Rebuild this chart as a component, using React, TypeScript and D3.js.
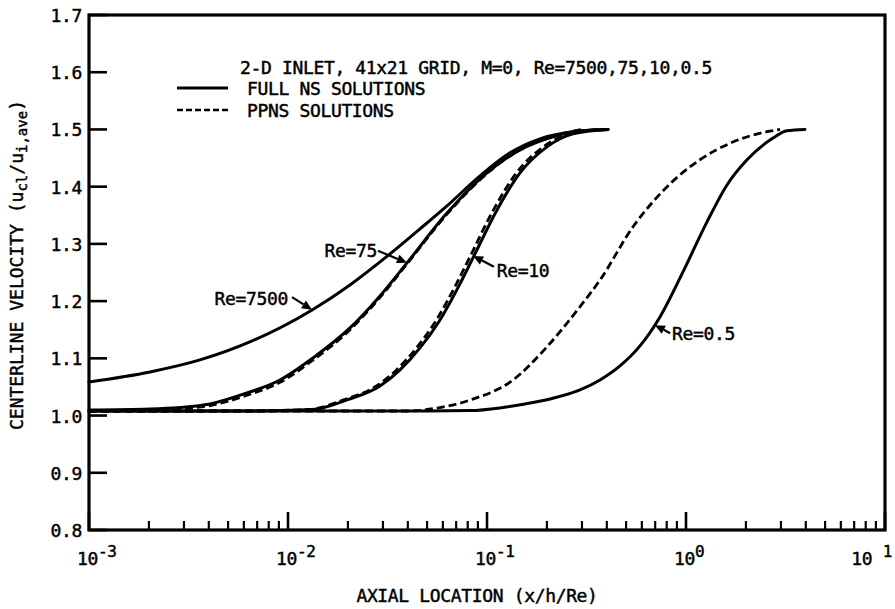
import React from "react";
import * as d3 from "d3";

// ---------- data ----------
const re7500X = [1e-3, 2.027e-3, 3.61e-3, 6.43e-3, 1.322e-2, 2.049e-2, 3.256e-2, 4.605e-2, 6.295e-2, 9.22e-2, 0.1305, 0.1846, 0.2705, 0.4055];
const re7500Y = [1.0587, 1.0762, 1.0972, 1.1287, 1.1846, 1.2283, 1.2825, 1.3262, 1.3664, 1.4189, 1.4591, 1.4836, 1.4958, 1.5];

const re75X = [1e-3, 2.027e-3, 2.866e-3, 4.055e-3, 6.22e-3, 9.12e-3, 1.335e-2, 2.049e-2, 2.9e-2, 3.963e-2, 6.295e-2, 0.1, 0.1465, 0.2146, 0.2933, 0.4055];
const re75Y = [1.0098, 1.0115, 1.0142, 1.0203, 1.0395, 1.0622, 1.1007, 1.1531, 1.2091, 1.2668, 1.3538, 1.4241, 1.4643, 1.4871, 1.4976, 1.5];
const re75PpnsX = [1e-3, 2.027e-3, 2.866e-3, 4.055e-3, 6.22e-3, 9.12e-3, 1.335e-2, 2.049e-2, 2.9e-2, 3.963e-2, 6.295e-2, 0.1, 0.1465, 0.2146, 0.3];
const re75PpnsY = [1.008, 1.0095, 1.012, 1.0175, 1.0355, 1.058, 1.097, 1.15, 1.2065, 1.265, 1.352, 1.423, 1.4643, 1.488, 1.5];

const re10X = [1e-3, 6.44e-3, 1.335e-2, 1.979e-2, 2.9e-2, 3.654e-2, 4.605e-2, 5.805e-2, 7.313e-2, 8.5e-2, 0.1123, 0.1465, 0.2002, 0.2705, 0.4055];
const re10Y = [1.008, 1.008, 1.0107, 1.0273, 1.0517, 1.0797, 1.1182, 1.1671, 1.2301, 1.2755, 1.3594, 1.4241, 1.4696, 1.4923, 1.5];
const re10PpnsX = [1e-3, 6.2e-3, 1.28e-2, 1.9e-2, 2.78e-2, 3.51e-2, 4.42e-2, 5.57e-2, 7.02e-2, 8.16e-2, 0.1078, 0.1406, 0.192, 0.26, 0.37];
const re10PpnsY = [1.008, 1.008, 1.0107, 1.0273, 1.0517, 1.0797, 1.1182, 1.1671, 1.2301, 1.2755, 1.3594, 1.4241, 1.4696, 1.4923, 1.5];

const re05X = [1e-3, 0.05, 0.0821, 0.1162, 0.1552, 0.2073, 0.2933, 0.3697, 0.4658, 0.5872, 0.74, 0.9658, 1.275, 1.607, 2.026, 2.736, 3.218, 3.963];
const re05Y = [1.008, 1.008, 1.0087, 1.0133, 1.0203, 1.029, 1.0448, 1.0622, 1.0867, 1.1217, 1.1724, 1.251, 1.3385, 1.403, 1.447, 1.485, 1.4976, 1.5];
const re05PpnsX = [1e-3, 0.04, 0.058, 0.082, 0.135, 0.2, 0.293, 0.37, 0.542, 0.804, 1.175, 1.72, 2.55, 2.97];
const re05PpnsY = [1.008, 1.008, 1.014, 1.027, 1.062, 1.12, 1.19, 1.237, 1.33, 1.4, 1.447, 1.478, 1.496, 1.5];

const yTickValues = [0.8, 0.9, 1.0, 1.1, 1.2, 1.3, 1.4, 1.5, 1.6, 1.7];
const yTickLabels = ["0.8", "0.9", "1.0", "1.1", "1.2", "1.3", "1.4", "1.5", "1.6", "1.7"];
const xMajorValues = [1e-3, 1e-2, 1e-1, 1, 10];
const xMajorExponents = ["-3", "-2", "-1", "0", "1"];
const minorMultipliers = [2, 3, 4, 5, 6, 7, 8, 9];

const titleText = "2-D INLET, 41x21 GRID, M=0, Re=7500,75,10,0.5";
const legendLabels = ["FULL NS SOLUTIONS", "PPNS SOLUTIONS"];
const xAxisTitle = "AXIAL LOCATION (x/h/Re)";

// annotations: label, arrow head (data), arrow tail (data), label anchor (data), text-anchor
const annoLabels = ["Re=7500", "Re=75", "Re=10", "Re=0.5"];
const annoHeads: [number, number][] = [[1.32e-2, 1.185], [3.96e-2, 1.267], [8.51e-2, 1.279], [0.698, 1.158]];
const annoTails: [number, number][] = [[1.047e-2, 1.207], [2.83e-2, 1.288], [0.1084, 1.26], [0.832, 1.144]];
const annoTextPos: [number, number][] = [[1.0e-2, 1.193], [2.8e-2, 1.277], [0.112, 1.242], [0.851, 1.132]];
const annoAnchors = ["end", "end", "start", "start"];

// ---------- layout ----------
const W = 895;
const H = 609;
const FONT = "DejaVu Sans Mono";

const x = d3.scaleLog().domain([1e-3, 10]).range([89, 885]);
const y = d3.scaleLinear().domain([0.8, 1.7]).range([530, 15]);

const zip = (xs: number[], ys: number[]) => xs.map((v, i) => [v, ys[i]] as [number, number]);
const line = d3
  .line<[number, number]>()
  .x((d) => x(d[0]))
  .y((d) => y(d[1]))
  .curve(d3.curveMonotoneX);

const solidSeries = [zip(re7500X, re7500Y), zip(re75X, re75Y), zip(re10X, re10Y), zip(re05X, re05Y)];
const dashedSeries = [zip(re75PpnsX, re75PpnsY), zip(re10PpnsX, re10PpnsY), zip(re05PpnsX, re05PpnsY)];

function Arrow({ head, tail }: { head: [number, number]; tail: [number, number] }) {
  const hx = x(head[0]);
  const hy = y(head[1]);
  const tx = x(tail[0]);
  const ty = y(tail[1]);
  const ang = Math.atan2(hy - ty, hx - tx);
  const L = 10;
  const Wd = 4.5;
  const bx = hx - L * Math.cos(ang);
  const by = hy - L * Math.sin(ang);
  const px = -Math.sin(ang) * Wd;
  const py = Math.cos(ang) * Wd;
  return (
    <g>
      <line x1={tx} y1={ty} x2={bx} y2={by} stroke="#000" strokeWidth={2.2} />
      <polygon points={`${hx},${hy} ${bx + px},${by + py} ${bx - px},${by - py}`} fill="#000" />
    </g>
  );
}

export default function App() {
  const minorTicks: number[] = [];
  for (let e = -3; e < 1; e++) {
    for (const m of minorMultipliers) minorTicks.push(m * Math.pow(10, e));
  }
  const textStyle = {
    fontFamily: FONT,
    fontSize: 18,
    letterSpacing: -0.35,
    stroke: "#000",
    strokeWidth: 0.45,
  } as React.CSSProperties;

  return (
    <svg
      width={W}
      height={H}
      viewBox={`0 0 ${W} ${H}`}
      style={{ position: "absolute", left: 0, top: 0, background: "#fff" }}
    >
      <rect x={0} y={0} width={W} height={H} fill="#fff" />

      {/* curves */}
      <g fill="none" stroke="#000">
        {solidSeries.map((s, i) => (
          <path key={"s" + i} d={line(s) || ""} strokeWidth={3} strokeLinecap="round" />
        ))}
        {dashedSeries.map((s, i) => (
          <path key={"d" + i} d={line(s) || ""} strokeWidth={2.8} strokeDasharray="8 4" />
        ))}
      </g>

      {/* frame */}
      <rect
        x={x(1e-3)}
        y={y(1.7)}
        width={x(10) - x(1e-3)}
        height={y(0.8) - y(1.7)}
        fill="none"
        stroke="#000"
        strokeWidth={3.2}
      />

      {/* y ticks */}
      {yTickValues.map((v, i) => (
        <g key={"yt" + i}>
          <line x1={x(1e-3)} x2={x(1e-3) + 18} y1={y(v)} y2={y(v)} stroke="#000" strokeWidth={2.6} />
          <text x={82} y={y(v) + 7} textAnchor="end" style={textStyle}>
            {yTickLabels[i]}
          </text>
        </g>
      ))}

      {/* x ticks */}
      {minorTicks.map((v, i) => (
        <line key={"xm" + i} x1={x(v)} x2={x(v)} y1={y(0.8)} y2={y(0.8) - 9} stroke="#000" strokeWidth={2.2} />
      ))}
      {xMajorValues.map((v, i) => {
        const last = i === xMajorValues.length - 1;
        return (
          <g key={"xt" + i}>
            <line x1={x(v)} x2={x(v)} y1={y(0.8)} y2={y(0.8) - 18} stroke="#000" strokeWidth={2.6} />
            <text
              x={last ? W - 3 : x(v) - 12}
              y={565}
              textAnchor={last ? "end" : "start"}
              style={textStyle}
            >
              {last ? "10 " : "10"}
              <tspan dy={-8} style={{ fontSize: 16 }}>
                {xMajorExponents[i]}
              </tspan>
            </text>
          </g>
        );
      })}

      {/* axis titles */}
      <text x={477} y={602} textAnchor="middle" style={textStyle}>
        {xAxisTitle}
      </text>
      <text
        transform="translate(23,265) rotate(-90)"
        textAnchor="middle"
        style={{ ...textStyle, letterSpacing: 0 }}
      >
        CENTERLINE VELOCITY (u
        <tspan dy={4} style={{ fontSize: 14 }}>
          cl
        </tspan>
        <tspan dy={-4}>/u</tspan>
        <tspan dy={4} style={{ fontSize: 14 }}>
          i,ave
        </tspan>
        <tspan dy={-4}>)</tspan>
      </text>

      {/* title + legend */}
      <text x={240} y={74} style={textStyle}>
        {titleText}
      </text>
      <line x1={177} x2={228} y1={88} y2={88} stroke="#000" strokeWidth={3} />
      <text x={247} y={95} style={textStyle}>
        {legendLabels[0]}
      </text>
      <line x1={177} x2={228} y1={110} y2={110} stroke="#000" strokeWidth={2.6} strokeDasharray="6 3" />
      <text x={247} y={117} style={textStyle}>
        {legendLabels[1]}
      </text>

      {/* annotations */}
      {annoLabels.map((lab, i) => (
        <g key={"a" + i}>
          <Arrow head={annoHeads[i]} tail={annoTails[i]} />
          <text
            x={x(annoTextPos[i][0])}
            y={y(annoTextPos[i][1])}
            textAnchor={annoAnchors[i] as any}
            style={textStyle}
          >
            {lab}
          </text>
        </g>
      ))}
    </svg>
  );
}
